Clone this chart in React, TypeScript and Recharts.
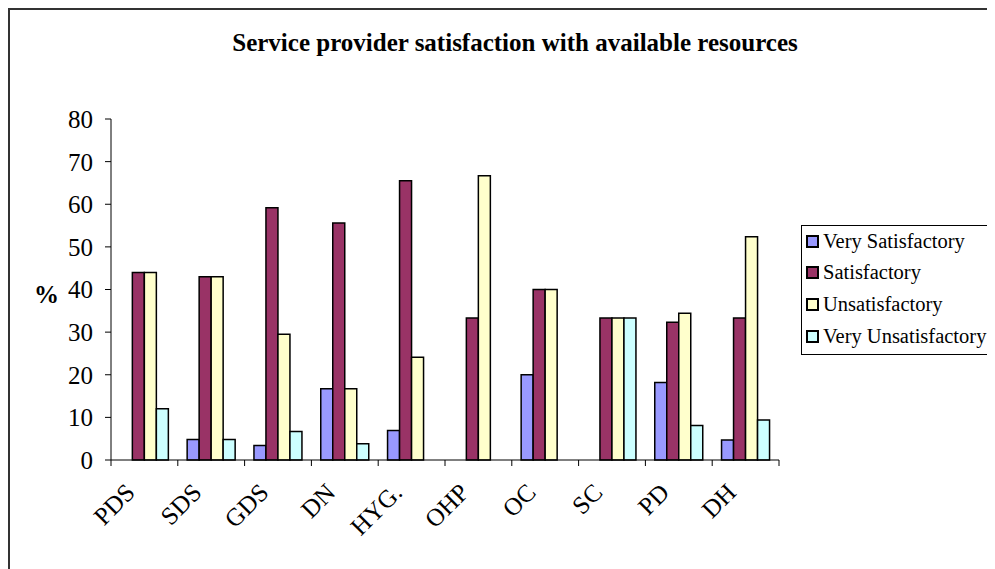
import React from "react";
import { BarChart, Bar, XAxis, YAxis } from "recharts";

const categories = ["PDS", "SDS", "GDS", "DN", "HYG.", "OHP", "OC", "SC", "PD", "DH"];
const verySatisfactory = [0, 4.8, 3.4, 16.7, 6.9, 0, 20, 0, 18.2, 4.7];
const satisfactory = [44, 43, 59.2, 55.6, 65.5, 33.3, 40, 33.3, 32.3, 33.3];
const unsatisfactory = [44, 43, 29.5, 16.7, 24.1, 66.7, 40, 33.3, 34.4, 52.4];
const veryUnsatisfactory = [12, 4.8, 6.7, 3.8, 0, 0, 0, 33.3, 8.1, 9.4];
const yTicks = [0, 10, 20, 30, 40, 50, 60, 70, 80];

const series = [
  { key: "vs", name: "Very Satisfactory", color: "#9999FF" },
  { key: "s", name: "Satisfactory", color: "#993366" },
  { key: "u", name: "Unsatisfactory", color: "#FFFFCC" },
  { key: "vu", name: "Very Unsatisfactory", color: "#CCFFFF" },
];

const data = categories.map((c, i) => ({
  cat: c,
  vs: verySatisfactory[i],
  s: satisfactory[i],
  u: unsatisfactory[i],
  vu: veryUnsatisfactory[i],
}));

const FONT = "Liberation Serif, serif";
const BAND = 66.8;

// category label rotated -45, plus tick marks at the category boundaries
const CatTick = (props: any) => {
  const { x, y, payload, index } = props;
  const half = BAND / 2;
  const tx = x - 8;
  const ty = y + 26;
  return (
    <g>
      <line x1={x - half} y1={y - 8} x2={x - half} y2={y - 2} stroke="#000" />
      {index === categories.length - 1 && (
        <line x1={x + half} y1={y - 8} x2={x + half} y2={y - 2} stroke="#000" />
      )}
      <text
        x={tx}
        y={ty}
        textAnchor="end"
        fontFamily={FONT}
        fontSize={25}
        fill="#000"
        transform={`rotate(-45 ${tx} ${ty})`}
      >
        {payload.value}
      </text>
    </g>
  );
};

function LegendBox() {
  return (
    <div
      style={{
        position: "absolute",
        left: 791,
        top: 215,
        width: 192,
        height: 128,
        border: "1px solid #000",
        background: "#fff",
        fontFamily: FONT,
        fontSize: 20.5,
      }}
    >
      {series.map((s, i) => (
        <div
          key={s.key}
          style={{
            position: "absolute",
            left: 4,
            top: 3 + i * 31.7,
            height: 24,
            display: "flex",
            alignItems: "center",
            whiteSpace: "nowrap",
          }}
        >
          <span
            style={{
              display: "inline-block",
              width: 9,
              height: 9,
              border: "2px solid #000",
              background: s.color,
              marginRight: 4,
            }}
          />
          <span>{s.name}</span>
        </div>
      ))}
    </div>
  );
}

export default function App() {
  return (
    <div
      style={{
        position: "relative",
        width: 987,
        height: 561,
        borderLeft: "2px solid #333",
        borderTop: "2px solid #333",
        boxSizing: "border-box",
        overflow: "hidden",
        background: "#fff",
      }}
    >
      <div
        style={{
          position: "absolute",
          left: 0,
          top: 19,
          width: 1010,
          textAlign: "center",
          fontFamily: FONT,
          fontWeight: "bold",
          fontSize: 25,
        }}
      >
        Service provider satisfaction with available resources
      </div>
      <div
        style={{
          position: "absolute",
          left: 24,
          top: 271,
          fontFamily: FONT,
          fontWeight: "bold",
          fontSize: 25,
        }}
      >
        %
      </div>
      <BarChart
        width={980}
        height={561}
        data={data}
        margin={{ top: 109, right: 211, left: 41, bottom: 31 }}
        barCategoryGap="14%"
        barGap={0}
      >
        <XAxis
          dataKey="cat"
          stroke="#000"
          tickLine={false}
          height={80}
          interval={0}
          tick={<CatTick />}
        />
        <YAxis
          domain={[0, 80]}
          ticks={yTicks}
          stroke="#000"
          width={60}
          tickSize={6}
          tickMargin={12}
          tick={{ fontFamily: FONT, fontSize: 25, fill: "#000" }}
        />
        {series.map(s => (
          <Bar
            key={s.key}
            dataKey={s.key}
            name={s.name}
            fill={s.color}
            stroke="#000"
            strokeWidth={1.5}
            isAnimationActive={false}
          />
        ))}
      </BarChart>
      <LegendBox />
    </div>
  );
}
